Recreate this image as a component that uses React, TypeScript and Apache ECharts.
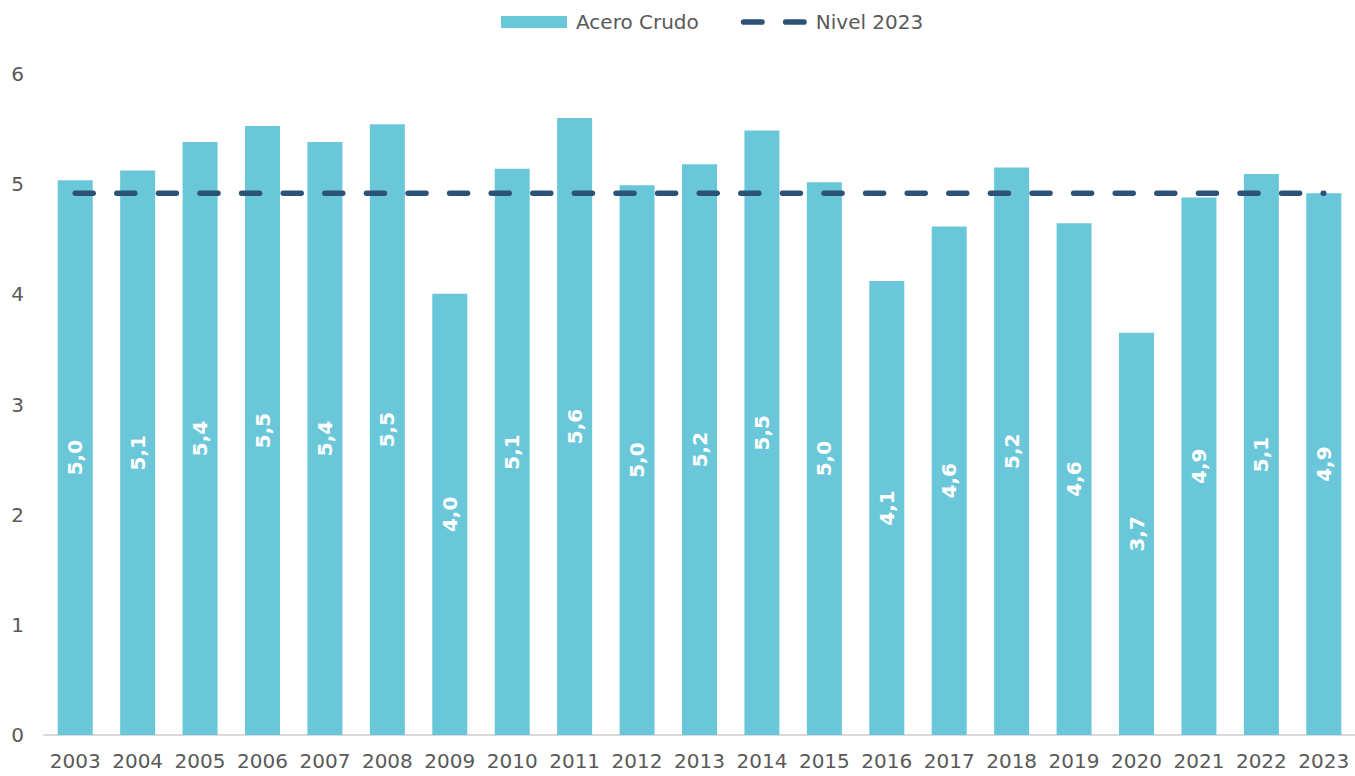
import React, { useEffect, useRef } from "react";
import * as echarts from "echarts";

const years = ["2003","2004","2005","2006","2007","2008","2009","2010","2011","2012","2013","2014","2015","2016","2017","2018","2019","2020","2021","2022","2023"];
const aceroCrudo = [5.036,5.124,5.383,5.529,5.383,5.544,4.005,5.139,5.601,4.991,5.181,5.487,5.018,4.121,4.616,5.151,4.646,3.651,4.879,5.093,4.918];
const nivel2023Value = 4.918;
const nivel2023 = years.map(() => nivel2023Value);

const FONT = "DejaVu Sans";
const DASH_ICON =
  "path://M2.75,0 H20.55 A2.75,2.75 0 0 1 20.55,5.5 H2.75 A2.75,2.75 0 0 1 2.75,0 Z M43.75,0 H61.55 A2.75,2.75 0 0 1 61.55,5.5 H43.75 A2.75,2.75 0 0 1 43.75,0 Z";

export default function App() {
  const ref = useRef<HTMLDivElement>(null);
  useEffect(() => {
    if (!ref.current) return;
    const chart = echarts.init(ref.current, null, { renderer: "svg" });
    chart.setOption({
      animation: false,
      textStyle: { fontFamily: FONT },
      legend: {
        top: 12,
        left: 501,
        padding: 0,
        itemWidth: 66,
        itemHeight: 12,
        itemGap: 42,
        textStyle: { fontFamily: FONT, fontSize: 20, color: "#595959", padding: [0, 0, 0, 4] },
        data: [
          { name: "Acero Crudo", icon: "rect" },
          { name: "Nivel 2023", icon: DASH_ICON },
        ],
      },
      grid: { left: 44, right: 0, top: 74, bottom: 41, containLabel: false },
      xAxis: {
        type: "category",
        data: years,
        axisLine: { lineStyle: { color: "#d9d9d9", width: 2 } },
        axisTick: { show: false },
        axisLabel: { fontFamily: FONT, fontSize: 20, color: "#595959", margin: 16, interval: 0 },
      },
      yAxis: {
        type: "value",
        min: 0,
        max: 6,
        interval: 1,
        splitLine: { show: false },
        axisLine: { show: false },
        axisTick: { show: false },
        axisLabel: { fontFamily: FONT, fontSize: 20, color: "#595959", margin: 20 },
      },
      series: [
        {
          name: "Acero Crudo",
          type: "bar",
          data: aceroCrudo,
          barWidth: 35,
          itemStyle: { color: "#69c7d9" },
          label: {
            show: true,
            position: "inside",
            rotate: 90,
            fontFamily: FONT,
            fontSize: 20,
            fontWeight: "bold",
            color: "#ffffff",
            formatter: (p: any) => Number(p.value).toFixed(1).replace(".", ","),
          },
          z: 2,
        },
        {
          name: "Nivel 2023",
          type: "line",
          data: nivel2023,
          symbol: "none",
          lineStyle: { color: "#2c5278", width: 5.5, type: [18, 23.6], cap: "round" },
          itemStyle: { color: "#2c5278" },
          z: 3,
        },
      ],
    });
    return () => chart.dispose();
  }, []);
  return <div ref={ref} style={{ width: 1355, height: 776, position: "absolute", left: 0, top: 0 }} />;
}
